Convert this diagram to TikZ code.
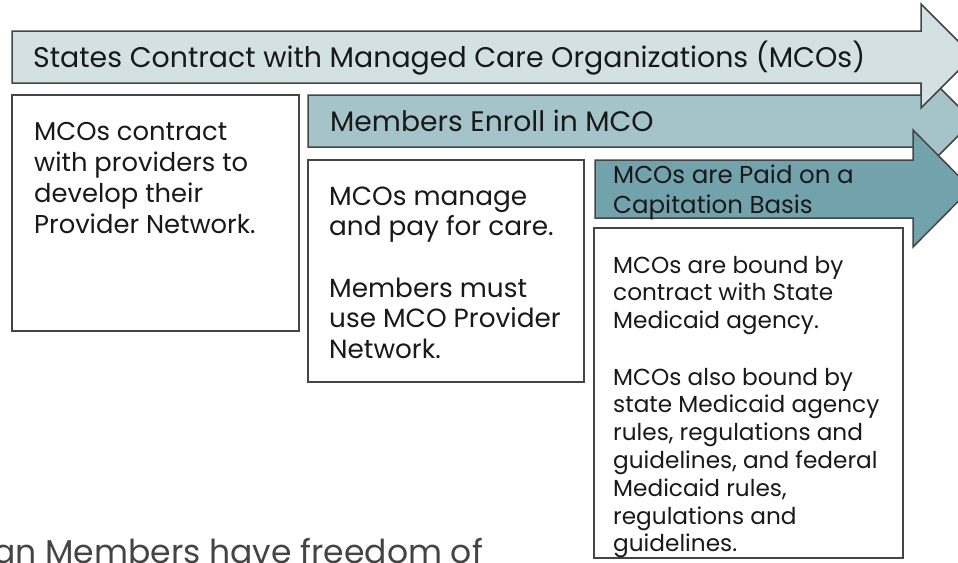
\documentclass[tikz,border=0pt]{standalone}
\usepackage{fontspec}
\setmainfont{Poppins}
\definecolor{arrowA}{HTML}{D3E1E4}
\definecolor{arrowB}{HTML}{A4C4CA}
\definecolor{arrowC}{HTML}{72A3AD}
\definecolor{edge}{HTML}{454545}
\definecolor{bottomtext}{HTML}{444444}
\newcommand{\linesblock}[1]{\begin{tabular}[t]{@{}l@{}}#1\end{tabular}}
\tikzset{
  arrowshape/.style={draw=edge, line width=1.5pt, line join=miter},
  textbox/.style={draw=edge, line width=1.5pt, fill=white},
  lbl/.style={anchor=base west, inner sep=0pt, text=black!90},
}
\begin{document}
\begin{tikzpicture}[x=1pt,y=-1pt]
\useasboundingbox (0,0) rectangle (958,562);
\begin{scope}
\clip (0,0) rectangle (958,562);
% arrow 2 (under arrow 1 and 3)
\draw[arrowshape, fill=arrowB] (308,95) -- (921,95) -- (921,69) -- (973,121) -- (921,173) -- (921,147) -- (308,147) -- cycle;
% arrow 1
\draw[arrowshape, fill=arrowA] (12,31) -- (921,31) -- (921,4) -- (973,56) -- (921,108) -- (921,83) -- (12,83) -- cycle;
% arrow 3
\draw[arrowshape, fill=arrowC] (595,160) -- (913,160) -- (913,130) -- (971,188.5) -- (913,247) -- (913,218) -- (595,218) -- cycle;
% boxes
\draw[textbox] (12,95) rectangle (299,331);
\draw[textbox] (308,160) rectangle (584,382);
\draw[textbox] (594,228) rectangle (903,558);

\node[lbl, font=\fontsize{28.4}{32}\selectfont] (t1) at (33,67) {States Contract with Managed Care Organizations (MCOs)};
\node[lbl, font=\fontsize{28.2}{32}\selectfont] (t2) at (330,131) {Members Enroll in MCO};
\node[lbl, font=\fontsize{24.5}{30}\selectfont] (t3) at (613,183) {\linesblock{MCOs are Paid on a\\Capitation Basis}};
\node[lbl, font=\fontsize{25.8}{31}\selectfont] (ba) at (34,140) {\linesblock{MCOs contract\\with providers to\\develop their\\Provider Network.}};
\node[lbl, font=\fontsize{26.3}{30.5}\selectfont] (bb) at (329,205) {\linesblock{MCOs manage\\and pay for care.\\[31pt]Members must\\use MCO Provider\\Network.}};
\node[lbl, font=\fontsize{23.2}{27.8}\selectfont] (bc) at (613,273) {\linesblock{MCOs are bound by\\contract with State\\Medicaid agency.\\[28.6pt]MCOs also bound by\\state Medicaid agency\\rules, regulations and\\guidelines, and federal\\Medicaid rules,\\regulations and\\guidelines.}};
\node[lbl, text=bottomtext, font=\fontsize{33}{38}\selectfont] (bt) at (-7,563) {an Members have freedom of};
\end{scope}
\end{tikzpicture}
\end{document}
